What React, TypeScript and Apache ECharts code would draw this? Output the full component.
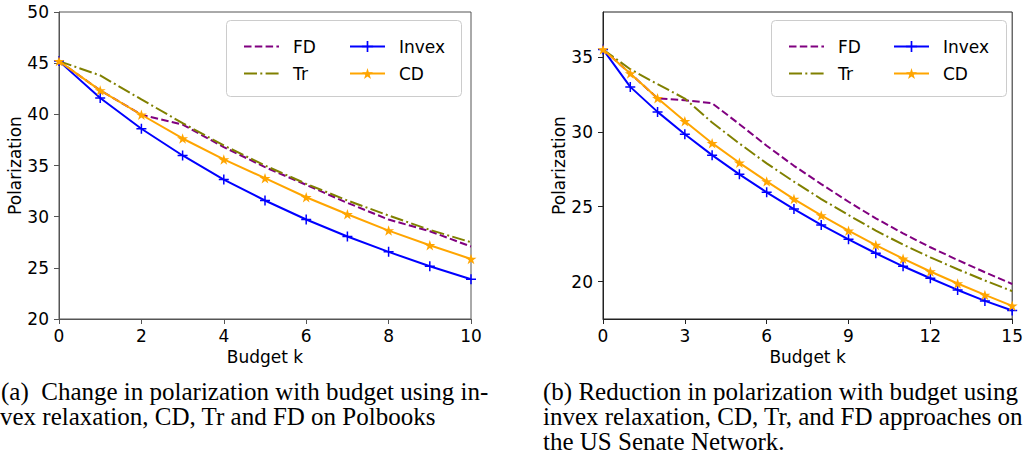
import React, { useEffect, useRef } from "react";
import * as echarts from "echarts";

// ---------- Data: (a) Polbooks ----------
const budgetA = [0, 1, 2, 3, 4, 5, 6, 7, 8, 9, 10];
const fdA = [45.2, 42.34, 39.96, 39.0, 36.8, 34.84, 33.11, 31.35, 29.72, 28.58, 27.08];
const trA = [45.2, 43.8, 41.46, 39.14, 36.96, 35.0, 33.21, 31.58, 30.11, 28.71, 27.5];
const invexA = [45.2, 41.59, 38.59, 35.98, 33.63, 31.58, 29.72, 28.06, 26.56, 25.15, 23.88];
const cdA = [45.2, 42.34, 39.96, 37.64, 35.59, 33.76, 31.9, 30.24, 28.64, 27.21, 25.87];

// ---------- Data: (b) US Senate ----------
const budgetB = [0, 1, 2, 3, 4, 5, 6, 7, 8, 9, 10, 11, 12, 13, 14, 15];
const fdB = [35.5, 33.89, 32.24, 32.11, 31.91, 30.51, 29.07, 27.73, 26.51, 25.33, 24.22, 23.22, 22.29, 21.44, 20.62, 19.84];
const trB = [35.5, 34.18, 33.18, 32.22, 30.62, 29.22, 27.89, 26.67, 25.51, 24.44, 23.4, 22.47, 21.62, 20.82, 20.07, 19.36];
const invexB = [35.5, 33.0, 31.33, 29.84, 28.44, 27.16, 25.96, 24.84, 23.78, 22.82, 21.89, 21.02, 20.22, 19.44, 18.71, 18.07];
const cdB = [35.5, 33.89, 32.24, 30.71, 29.24, 27.93, 26.69, 25.51, 24.42, 23.4, 22.44, 21.53, 20.67, 19.87, 19.11, 18.38];

// ---------- Tick labels ----------
const yTicksB = [20, 25, 30, 35];

// ---------- Text ----------
const seriesNames = ["FD", "Tr", "Invex", "CD"];
const xName = "Budget k";
const yName = "Polarization";
const captionA = [
  "(a)  Change in polarization with budget using in-",
  "vex relaxation, CD, Tr and FD on Polbooks",
];
const captionB = [
  "(b) Reduction in polarization with budget using",
  "invex relaxation, CD, Tr, and FD approaches on",
  "the US Senate Network.",
];

const PLUS =
  "path://M4.25,0 H5.75 V4.25 H10 V5.75 H5.75 V10 H4.25 V5.75 H0 V4.25 H4.25 Z";
const STAR =
  "path://M10,0 L12.245,6.91 L19.511,6.91 L13.633,11.18 L15.878,18.09 L10,13.82 L4.122,18.09 L6.367,11.18 L0.489,6.91 L7.755,6.91 Z";

const COLORS: Record<string, string> = {
  FD: "#800080",
  Tr: "#808000",
  Invex: "#0000ff",
  CD: "#ffa500",
};

function makeSeries(name: string, xs: number[], ys: number[], idx: number) {
  const base: any = {
    name,
    type: "line",
    xAxisIndex: idx,
    yAxisIndex: idx,
    data: xs.map((x, i) => [x, ys[i]]),
    silent: true,
    color: COLORS[name],
    itemStyle: { color: COLORS[name] },
    lineStyle: { color: COLORS[name], width: 2 },
    emphasis: { disabled: true },
  };
  if (name === "FD") {
    base.symbol = "none";
    base.lineStyle.type = [7.5, 3.3];
  } else if (name === "Tr") {
    base.symbol = "none";
    base.lineStyle.type = [13, 3.3, 2, 3.3];
  } else if (name === "Invex") {
    base.symbol = PLUS;
    base.symbolSize = 10;
    base.symbolKeepAspect = true;
    base.showAllSymbol = true;
  } else {
    base.symbol = STAR;
    base.symbolSize = 11;
    base.symbolKeepAspect = true;
    base.showAllSymbol = true;
  }
  return base;
}

const legendItem = (name: string) =>
  name === "FD" || name === "Tr" ? { name, itemStyle: { opacity: 0 } } : { name };

export default function App() {
  const ref = useRef<HTMLDivElement>(null);
  useEffect(() => {
    const chart = echarts.init(ref.current!, undefined, {
      renderer: "svg",
      width: 1026,
      height: 454,
    });
    const font = "DejaVu Sans";
    const fs = 17;
    const axisColorA = "#555555";
    const axisColorB = "#222222";
    const capFont = "25px 'Liberation Serif'";

    const xAxis = (min: number, max: number, interval: number, color: string, gi: number) => ({
      type: "value",
      gridIndex: gi,
      min,
      max,
      interval,
      name: xName,
      nameLocation: "middle",
      nameGap: 27,
      nameTextStyle: { color: "#000", fontSize: fs, fontFamily: font },
      axisLine: { show: true, lineStyle: { color, width: 1 } },
      axisTick: { show: true, inside: false, length: 5, lineStyle: { color, width: 1 } },
      axisLabel: { color: "#000", fontSize: fs, fontFamily: font, margin: 8 },
      splitLine: { show: false },
    });

    const legendCommon = {
      orient: "vertical",
      itemWidth: 35,
      itemHeight: 14,
      itemGap: 10,
      padding: 0,
      selectedMode: false,
      textStyle: { color: "#000", fontSize: fs, fontFamily: font, padding: [0, 0, 0, 9], lineHeight: 14 },
    };

    const option: any = {
      animation: false,
      backgroundColor: "#ffffff",
      textStyle: { fontFamily: font },
      grid: [
        { left: 59, top: 12, width: 412, height: 307, show: true, borderColor: axisColorA, borderWidth: 1, backgroundColor: "transparent" },
        { left: 603, top: 12, width: 412, height: 307, show: true, borderColor: axisColorB, borderWidth: 1, backgroundColor: "transparent" },
      ],
      xAxis: [
        xAxis(0, 10, 2, axisColorA, 0),
        xAxis(0, 15, 3, axisColorB, 1),
      ],
      yAxis: [
        {
          type: "value",
          gridIndex: 0,
          min: 20,
          max: 50,
          interval: 5,
          name: yName,
          nameLocation: "middle",
          nameGap: 36,
          nameRotate: 90,
          nameTextStyle: { color: "#000", fontSize: fs, fontFamily: font },
          axisLine: { show: true, lineStyle: { color: axisColorA, width: 1 } },
          axisTick: { show: true, inside: false, length: 5, lineStyle: { color: axisColorA, width: 1 } },
          axisLabel: { color: "#000", fontSize: fs, fontFamily: font, margin: 10 },
          splitLine: { show: false },
        },
        {
          type: "value",
          gridIndex: 1,
          min: 17.5,
          max: 38,
          name: yName,
          nameLocation: "middle",
          nameGap: 36,
          nameRotate: 90,
          nameTextStyle: { color: "#000", fontSize: fs, fontFamily: font },
          axisLine: { show: true, lineStyle: { color: axisColorB, width: 1 } },
          axisTick: { show: true, inside: false, length: 5, customValues: yTicksB, lineStyle: { color: axisColorB, width: 1 } },
          axisLabel: { color: "#000", fontSize: fs, fontFamily: font, margin: 10, customValues: yTicksB },
          splitLine: { show: false },
        },
      ],
      legend: [
        { ...legendCommon, left: 243, top: 38, data: [seriesNames[0], seriesNames[1]].map(legendItem) },
        { ...legendCommon, left: 349, top: 38, data: [seriesNames[2], seriesNames[3]].map(legendItem) },
        { ...legendCommon, left: 788, top: 38, data: [seriesNames[0], seriesNames[1]].map(legendItem) },
        { ...legendCommon, left: 893, top: 38, data: [seriesNames[2], seriesNames[3]].map(legendItem) },
      ],
      graphic: [
        {
          type: "rect",
          z: -1,
          shape: { x: 226.5, y: 20.5, width: 235, height: 76, r: 4 },
          style: { fill: "rgba(255,255,255,0.8)", stroke: "#cccccc", lineWidth: 1 },
          silent: true,
        },
        {
          type: "rect",
          z: -1,
          shape: { x: 771.5, y: 20.5, width: 235, height: 76, r: 4 },
          style: { fill: "rgba(255,255,255,0.8)", stroke: "#cccccc", lineWidth: 1 },
          silent: true,
        },
        ...captionA.map((t, i) => ({
          type: "text",
          left: i === 0 ? 1 : 0,
          top: 379 + i * 25,
          silent: true,
          style: { text: t, fill: "#000", font: capFont, lineHeight: 20 },
        })),
        ...captionB.map((t, i) => ({
          type: "text",
          left: 543,
          top: 379 + i * 25,
          silent: true,
          style: { text: t, fill: "#000", font: capFont, lineHeight: 20 },
        })),
      ],
      series: [
        makeSeries("FD", budgetA, fdA, 0),
        makeSeries("Tr", budgetA, trA, 0),
        makeSeries("Invex", budgetA, invexA, 0),
        makeSeries("CD", budgetA, cdA, 0),
        makeSeries("FD", budgetB, fdB, 1),
        makeSeries("Tr", budgetB, trB, 1),
        makeSeries("Invex", budgetB, invexB, 1),
        makeSeries("CD", budgetB, cdB, 1),
      ],
    };
    chart.setOption(option);
    return () => chart.dispose();
  }, []);
  return (
    <div
      ref={ref}
      style={{ position: "fixed", left: 0, top: 0, width: 1026, height: 454, background: "#fff" }}
    />
  );
}
